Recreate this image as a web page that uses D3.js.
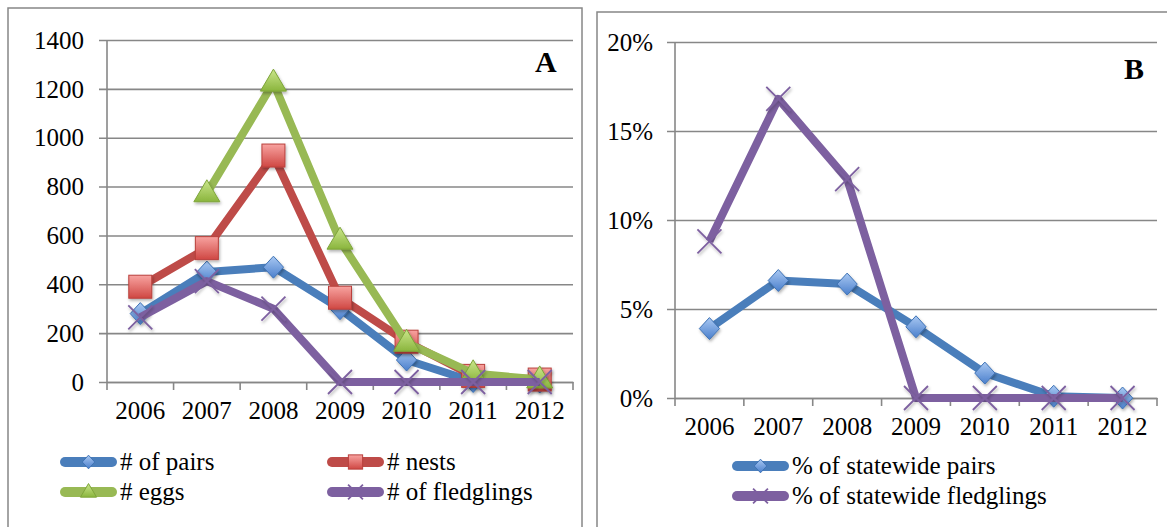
<!DOCTYPE html>
<html><head><meta charset="utf-8">
<script src="https://cdn.jsdelivr.net/npm/d3@7"></script>
<style>
html,body{margin:0;padding:0;background:#fff;}
svg{display:block;}
</style></head>
<body>
<svg id="chart" width="1167" height="527"></svg>
<script>
// ---- data ----
const years = ["2006","2007","2008","2009","2010","2011","2012"];
const pairs = [280, 450, 470, 300, 90, 2, 0];
const nests = [390, 548, 927, 345, 165, 25, 10];
const eggs = [null, 772, 1225, 578, 160, 35, 10];
const fledglings = [265, 413, 300, 0, 0, 0, 0];
const pctPairs = [0.039, 0.066, 0.064, 0.040, 0.014, 0.001, 0.0];
const pctFledglings = [0.088, 0.168, 0.123, 0.0, 0.0, 0.0, 0.0];
const ticksA = [0, 200, 400, 600, 800, 1000, 1200, 1400];
const ticksB = [0, 0.05, 0.10, 0.15, 0.20];
const labelsA = ["# of pairs", "# nests", "# eggs", "# of fledglings"];
const labelsB = ["% of statewide pairs", "% of statewide fledglings"];

const FONT = "'Liberation Serif', 'DejaVu Serif', serif";
const svg = d3.select("#chart").attr("font-family", FONT);
const defs = svg.append("defs");
function grad(id, c1, c2){
  const g = defs.append("linearGradient").attr("id", id).attr("x1",0).attr("y1",0).attr("x2",0).attr("y2",1);
  g.append("stop").attr("offset","0%").attr("stop-color",c1);
  g.append("stop").attr("offset","100%").attr("stop-color",c2);
}
grad("gBlue", "#a9c8f2", "#4a7fcc");
grad("gRed", "#f8a3a0", "#cf4743");
grad("gGreen", "#cbe68c", "#8ab53d");
const f = defs.append("filter").attr("id","shadow").attr("x","-30%").attr("y","-30%").attr("width","160%").attr("height","160%");
f.append("feDropShadow").attr("dx",1).attr("dy",2).attr("stdDeviation",1.5).attr("flood-color","#000").attr("flood-opacity",0.3);

const colors = {pairs:"#4a7ebb", nests:"#be4b48", eggs:"#98b954", fled:"#7d60a0"};
const gridColor = "#878787";

// frames
svg.append("rect").attr("x",8).attr("y",8).attr("width",574).attr("height",540).attr("fill","none").attr("stroke",gridColor).attr("stroke-width",1.5);
svg.append("rect").attr("x",597).attr("y",12).attr("width",600).attr("height",540).attr("fill","none").attr("stroke",gridColor).attr("stroke-width",1.5);

function marker(g, type, x, y, s){
  s = s || 1;
  if(type==="diamond"){
    const r = 11*s;
    g.append("path").attr("d",`M${x},${y-r}L${x+r*0.92},${y}L${x},${y+r}L${x-r*0.92},${y}Z`)
      .attr("fill","url(#gBlue)").attr("stroke","#3f73b5").attr("stroke-width",1);
  } else if(type==="square"){
    const h = 11.5*s;
    g.append("rect").attr("x",x-h).attr("y",y-h).attr("width",2*h).attr("height",2*h)
      .attr("fill","url(#gRed)").attr("stroke","#b9403c").attr("stroke-width",1);
  } else if(type==="triangle"){
    const w = 13*s, h = 22*s;
    g.append("path").attr("d",`M${x},${y-h*0.62}L${x+w},${y+h*0.38}L${x-w},${y+h*0.38}Z`)
      .attr("fill","url(#gGreen)").attr("stroke","#7ea53a").attr("stroke-width",1);
  } else if(type==="x"){
    const r = 12*s;
    g.append("path").attr("d",`M${x-r},${y-r}L${x+r},${y+r}M${x-r},${y+r}L${x+r},${y-r}`)
      .attr("stroke",colors.fled).attr("stroke-width",1.8).attr("fill","none");
  }
}

function panel(opt){
  const x = d3.scaleBand().domain(years).range(opt.xr).paddingInner(0).paddingOuter(0);
  const y = d3.scaleLinear().domain(opt.yd).range(opt.yr);
  const g = svg.append("g");
  const yAxis = d3.axisLeft(y).tickValues(opt.ticks).tickSize(-(opt.xr[1]-opt.xr[0])).tickFormat(opt.fmt).tickPadding(14);
  const ga = g.append("g").attr("transform",`translate(${opt.xr[0]},0)`).call(yAxis);
  ga.attr("font-family", FONT);
  ga.select(".domain").remove();
  ga.selectAll(".tick line").attr("stroke",gridColor).attr("stroke-width",1.6).attr("x1",-8);
  ga.selectAll(".tick text").attr("font-size",25).attr("fill","#000").attr("x",opt.ylabX - opt.xr[0]).attr("dy","0.33em");
  g.append("line").attr("x1",opt.xr[0]).attr("x2",opt.xr[0]).attr("y1",opt.yr[1]).attr("y2",opt.yr[0]).attr("stroke",gridColor).attr("stroke-width",1.6);
  const xAxis = d3.axisBottom(x).tickSize(0).tickPadding(0);
  const gx = g.append("g").attr("transform",`translate(0,${opt.yr[0]})`).call(xAxis);
  gx.attr("font-family", FONT);
  gx.select(".domain").attr("stroke",gridColor).attr("stroke-width",1.6);
  gx.selectAll(".tick text").attr("font-size",25).attr("fill","#000").attr("y",opt.xlabDy).attr("dy",0);
  const bounds = years.map(d=>x(d)).concat([x(years[years.length-1])+x.bandwidth()]);
  g.selectAll(".xb").data(bounds).enter().append("line")
    .attr("x1",d=>d).attr("x2",d=>d).attr("y1",opt.yr[0]).attr("y2",opt.yr[0]+8)
    .attr("stroke",gridColor).attr("stroke-width",1.6);
  opt.series.forEach(s=>{
    const pts = s.values.map((v,i)=>({x:x(years[i])+x.bandwidth()/2, y:v==null?null:y(v)}));
    const line = d3.line().defined(d=>d.y!=null).x(d=>d.x).y(d=>d.y);
    g.append("path").attr("d",line(pts)).attr("fill","none").attr("stroke",s.color)
      .attr("stroke-width",8).attr("stroke-linejoin","round").attr("stroke-linecap","butt");
    const mg = g.append("g").attr("filter","url(#shadow)");
    pts.filter(d=>d.y!=null).forEach(d=>marker(mg, s.marker, d.x, d.y));
  });
  g.append("text").attr("x",opt.letter[0]).attr("y",opt.letter[1]).attr("font-size",30).attr("font-weight","bold").attr("font-family",FONT).text(opt.letter[2]);
  return {x,y};
}

panel({
  xr:[107,573], yd:[0,1400], yr:[382,40], ticks:ticksA, fmt:d3.format("d"), ylabX:84, xlabDy:37,
  letter:[535,72,"A"],
  series:[
    {values:pairs, color:colors.pairs, marker:"diamond"},
    {values:nests, color:colors.nests, marker:"square"},
    {values:eggs, color:colors.eggs, marker:"triangle"},
    {values:fledglings, color:colors.fled, marker:"x"}
  ]
});
panel({
  xr:[675,1157], yd:[0,0.20], yr:[398,42], ticks:ticksB, fmt:d3.format(".0%"), ylabX:653, xlabDy:37,
  letter:[1124,79,"B"],
  series:[
    {values:pctPairs, color:colors.pairs, marker:"diamond"},
    {values:pctFledglings, color:colors.fled, marker:"x"}
  ]
});

function legendItem(x1, y, label, color, type){
  const g = svg.append("g");
  g.append("line").attr("x1",x1+5).attr("x2",x1+52).attr("y1",y).attr("y2",y)
    .attr("stroke",color).attr("stroke-width",10).attr("stroke-linecap","round");
  marker(g, type, x1+28.5, y, 0.62);
  g.append("text").attr("x",x1+60).attr("y",y+8).attr("font-size",25).attr("font-family",FONT).text(label);
}
legendItem(60, 462, labelsA[0], colors.pairs, "diamond");
legendItem(327, 462, labelsA[1], colors.nests, "square");
legendItem(60, 492, labelsA[2], colors.eggs, "triangle");
legendItem(327, 492, labelsA[3], colors.fled, "x");
legendItem(732, 466, labelsB[0], colors.pairs, "diamond");
legendItem(732, 496, labelsB[1], colors.fled, "x");
</script>
</body></html>
